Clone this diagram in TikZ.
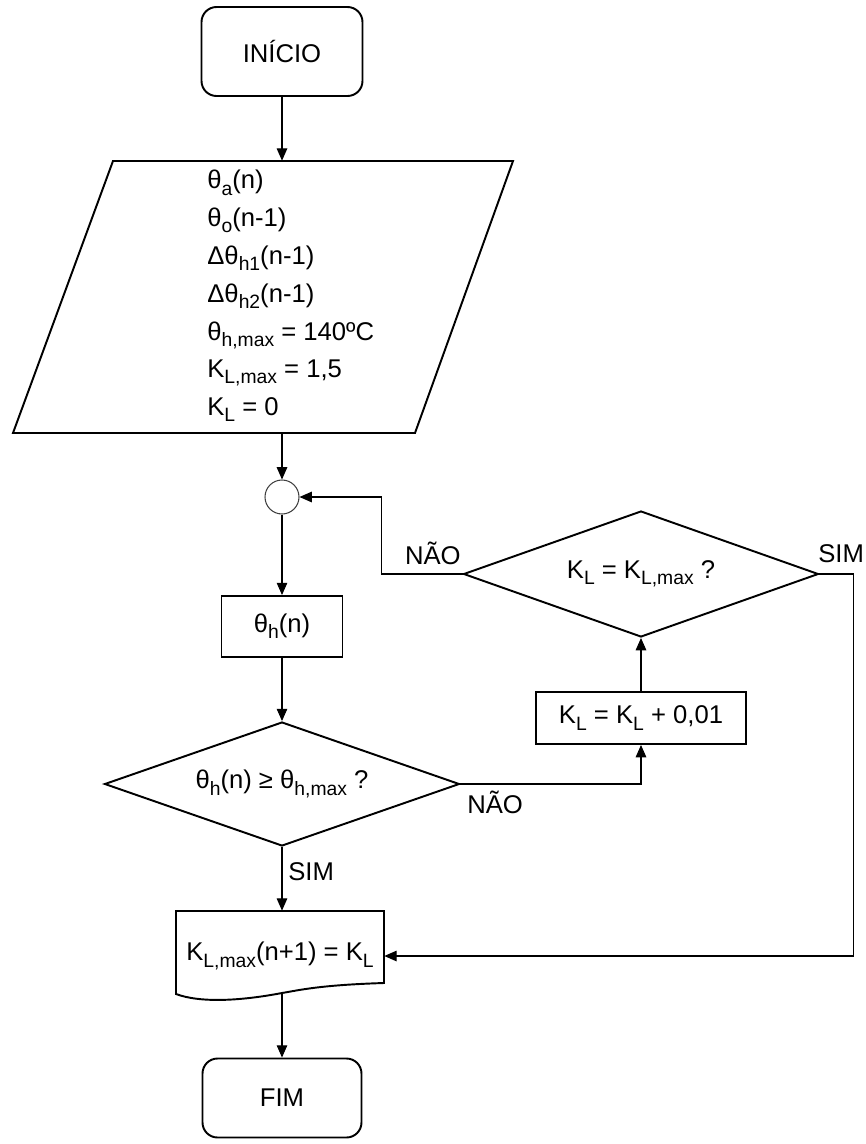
\documentclass[tikz,border=0pt]{standalone}
\usepackage{fontspec}
\setmainfont{Liberation Sans}
\usetikzlibrary{arrows.meta,shapes.geometric}
\newcommand{\sbx}[1]{\raisebox{-0.24em}{\fontsize{11pt}{11pt}\selectfont #1}}
\begin{document}
\begin{tikzpicture}[x=0.02cm,y=-0.02cm,
  font=\fontsize{14.6pt}{17.5pt}\selectfont,
  shp/.style={draw, line width=1.1pt},
  termbox/.style={shp, rounded corners=0.3cm, minimum width=3.22cm, minimum height=1.78cm, inner sep=0pt},
  procbox/.style={shp, inner sep=0pt},
  decide/.style={shp, diamond, aspect=2.8, minimum width=7.1cm, minimum height=2.48cm, inner sep=0pt},
  arr/.style={-{Triangle[length=7pt,width=6pt]}, line width=0.6pt},
  lbl/.style={inner sep=0pt}]
\useasboundingbox (0,0) rectangle (866,1144);

% start
\node[termbox] (start) at (282,51.5) {INÍCIO};

% input parallelogram
\node[minimum width=10cm, minimum height=5.44cm, inner sep=0pt] (inp) at (263,297) {};
\draw[shp] (113,161) -- (513,161) -- (415,433) -- (13,433) -- cycle;
\node[align=left, anchor=west, inner sep=0pt, font=\fontsize{14.6pt}{21.5pt}\selectfont] (inptxt) at (207,296) {%
θ\sbx{a}(n)\\
θ\sbx{o}(n-1)\\
Δθ\sbx{h1}(n-1)\\
Δθ\sbx{h2}(n-1)\\
θ\sbx{h,max} = 140ºC\\
K\sbx{L,max} = 1,5\\
K\sbx{L} = 0};

% junction
\node[circle, draw=black!75, line width=0.6pt, minimum size=0.68cm, inner sep=0pt] (junc) at (282,497) {};

% process theta_h
\node[procbox, minimum width=2.42cm, minimum height=1.22cm] (hn) at (282,626.5) {θ\sbx{h}(n)};

% decisions
\node[decide] (d1) at (282,784) {θ\sbx{h}(n) ≥ θ\sbx{h,max} ?};
\node[decide, minimum height=2.52cm] (d2) at (641,574) {K\sbx{L} = K\sbx{L,max} ?};

% increment
\node[procbox, minimum width=4.2cm, minimum height=1.04cm] (inc) at (641,718) {K\sbx{L} = K\sbx{L} + 0,01};

% output document
\node[minimum width=4.16cm, minimum height=1.8cm, inner sep=0pt] (out) at (280,956) {K\sbx{L,max}(n+1) = K\sbx{L}};
\draw[shp] (176,911) -- (384,911) -- (384,983)
  .. controls (320,985) and (300,990) .. (282,993)
  .. controls (240,1001) and (200,1003) .. (176,994) -- cycle;
\coordinate (outbot) at (282,993);

% end
\node[termbox, minimum width=3.18cm, minimum height=1.58cm] (fim) at (282,1098) {FIM};

% connectors
\draw[arr] (start.south) -- (start.south |- inp.north);
\draw[arr] (start.south |- inp.south) -- (junc.north);
\draw[arr] (junc.south) -- (hn.north);
\draw[arr] (hn.south) -- (d1.north);
\draw[arr] (d1.south) -- (d1.south |- out.north);
\draw[arr] (d1.east) -| (inc.south);
\draw[arr] (inc.north) -- (d2.south);
\draw[arr] (d2.west) -- ++(-81,0) |- (junc.east);
\draw[arr] (d2.east) -- ++(34,0) |- (out.east);
\draw[arr] (outbot) -- (fim.north);

% labels
\node[lbl, anchor=base east] (lno2) at (461,564) {NÃO};
\node[lbl, anchor=base west] (lsim2) at (818,562) {SIM};
\node[lbl, anchor=base west] (lno1) at (467,813) {NÃO};
\node[lbl, anchor=base west] (lsim1) at (288,880) {SIM};
\end{tikzpicture}
\end{document}
